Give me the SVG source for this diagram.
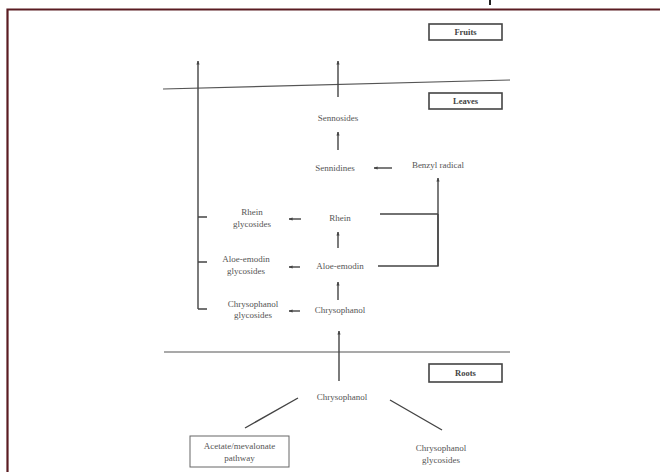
<svg xmlns="http://www.w3.org/2000/svg" width="660" height="472" viewBox="0 0 660 472">
<defs>
<marker id="ah" viewBox="0 0 10 10" refX="9" refY="5" markerWidth="4" markerHeight="4" orient="auto-start-reverse" markerUnits="userSpaceOnUse">
<path d="M0,1 L10,5 L0,9 Z" fill="#444"/>
</marker>
<style>
.t{font-family:"Liberation Serif",serif;font-size:9px;fill:#555;text-anchor:middle}
.b{font-family:"Liberation Serif",serif;font-size:8.5px;font-weight:bold;fill:#444;text-anchor:middle}
.ln{stroke:#444;stroke-width:1.4;fill:none}
.sep{stroke:#555;stroke-width:1.2;fill:none}
.box{fill:#fff;stroke:#444;stroke-width:1.6}
.box2{fill:#fff;stroke:#666;stroke-width:1}
.ar{stroke:#444;stroke-width:1.4;fill:none;marker-end:url(#ah)}
</style>
</defs>
<rect x="0" y="0" width="660" height="472" fill="#fff"/>
<g id="frame">
<path d="M7.5,472 V9.5 H660" fill="none" stroke="#5a1c22" stroke-width="2.2"/>
<rect x="489" y="0" width="2" height="5" fill="#222"/>
</g>
<g id="separators">
<path class="sep" d="M163,89 L510,80"/>
<path class="sep" d="M164,352 H510"/>
</g>
<g id="connectors">
<path class="ar" d="M198,309 V61"/>
<path class="ln" d="M198,217 H207 M198,262 H207 M198,309 H207"/>
<path class="ar" d="M338,97 V61"/>
<path class="ar" d="M338,150 V132"/>
<path class="ar" d="M392,168 H374"/>
<path class="ln" d="M380,214 H438 M378,266 H438 V214"/>
<path class="ar" d="M438,266 V178"/>
<path class="ar" d="M301,219 H289"/>
<path class="ar" d="M338,248 V232"/>
<path class="ar" d="M300,267 H289"/>
<path class="ar" d="M338,300 V282"/>
<path class="ar" d="M300,311 H289"/>
<path class="ar" d="M339,381 V331"/>
<path class="ln" d="M298,398 L245,428 M390,400 L442,430"/>
</g>
<g id="fruits"><rect class="box" x="429" y="24" width="73" height="16"/><text class="b" x="465.5" y="35">Fruits</text></g>
<g id="leaves"><rect class="box" x="429" y="93" width="73" height="16"/><text class="b" x="465.5" y="104">Leaves</text></g>
<g id="roots"><rect class="box" x="429" y="364" width="73" height="18"/><text class="b" x="465.5" y="376">Roots</text></g>
<g id="sennosides"><text class="t" x="338" y="121">Sennosides</text></g>
<g id="sennidines"><text class="t" x="335" y="171">Sennidines</text></g>
<g id="benzyl"><text class="t" x="438" y="168">Benzyl radical</text></g>
<g id="rhein"><text class="t" x="340" y="221">Rhein</text></g>
<g id="rhein-gly"><text class="t" x="252" y="215">Rhein</text><text class="t" x="252" y="227">glycosides</text></g>
<g id="aloe"><text class="t" x="340" y="269">Aloe-emodin</text></g>
<g id="aloe-gly"><text class="t" x="246" y="262">Aloe-emodin</text><text class="t" x="246" y="274">glycosides</text></g>
<g id="chrys-l"><text class="t" x="340" y="313">Chrysophanol</text></g>
<g id="chrys-l-gly"><text class="t" x="253" y="307">Chrysophanol</text><text class="t" x="253" y="318">glycosides</text></g>
<g id="chrys-r"><text class="t" x="342" y="400">Chrysophanol</text></g>
<g id="pathway"><rect class="box2" x="190" y="436" width="99" height="31"/><text class="t" x="239.5" y="449">Acetate/mevalonate</text><text class="t" x="239.5" y="461">pathway</text></g>
<g id="chrys-r-gly"><text class="t" x="441" y="451">Chrysophanol</text><text class="t" x="441" y="463">glycosides</text></g>
</svg>
